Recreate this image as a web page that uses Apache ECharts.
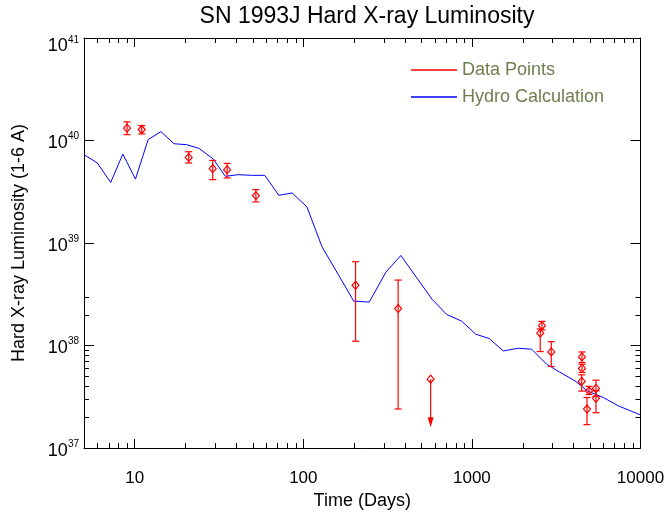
<!DOCTYPE html>
<html>
<head>
<meta charset="utf-8">
<title>SN 1993J Hard X-ray Luminosity</title>
<script src="https://cdn.jsdelivr.net/npm/echarts@6/dist/echarts.min.js"></script>
<style>
  html, body { margin: 0; padding: 0; background: #fff; }
  #chart { width: 668px; height: 515px; }
</style>
</head>
<body>
<div id="chart"></div>
<script>
// hydro calculation curve (days, erg/s)
var hydroDays = [5, 6, 7.2, 8.5, 10.1, 12, 14.3, 17.1, 20.3, 24, 29.2, 34.5, 41, 49.3, 59.1, 71.5, 85.8, 105, 129, 161,
                 199, 246, 309, 379, 470, 581, 708, 869, 1052, 1267, 1534, 1883, 2262, 2775, 3296, 4087, 4834, 6016, 7383, 10000];
var hydroLum = [7.27e39, 6.03e39, 3.9e39, 7.38e39, 4.2e39, 1.02e40, 1.22e40, 9.3e39, 9.1e39, 8.4e39,
                6.6e39, 4.47e39, 4.64e39, 4.57e39, 4.57e39, 2.92e39, 3.08e39, 2.25e39, 9.2e38, 4.94e38,
                2.71e38, 2.65e38, 5.2e38, 7.56e38, 4.59e38, 2.82e38, 2.01e38, 1.73e38, 1.29e38, 1.17e38,
                8.85e37, 9.4e37, 9.2e37, 6.57e37, 5.53e37, 4.52e37, 3.61e37, 3.11e37, 2.58e37, 2.1e37];

// observed points with error bars
var obsDays = [9.0, 11.0, 20.9, 29.0, 35.3, 52.3, 204, 365, 2543, 2603, 2955, 4480, 4496, 4496, 4815, 4949, 5443, 5443];
var obsLum  = [1.32e40, 1.28e40, 6.84e39, 5.31e39, 5.19e39, 2.90e39, 3.86e38, 2.29e38, 1.32e38, 1.56e38,
               8.65e37, 4.46e37, 7.74e37, 5.97e37, 2.40e37, 3.61e37, 3.81e37, 3.05e37];
var obsLow  = [1.14e40, 1.16e40, 6.03e39, 4.15e39, 4.31e39, 2.52e39, 1.10e38, 2.40e37, 8.73e37, 1.42e38,
               6.24e37, 3.59e37, 6.82e37, 5.45e37, 1.69e37, 3.33e37, 3.19e37, 2.21e37];
var obsHigh = [1.52e40, 1.40e40, 7.77e39, 6.40e39, 5.98e39, 3.32e39, 6.56e38, 4.35e38, 1.45e38, 1.72e38,
               1.09e38, 5.17e37, 8.65e37, 6.57e37, 3.11e37, 3.99e37, 4.59e37, 3.61e37];

// upper limit
var limitDays = [569];
var limitLum = [4.69e37];

// axis ranges and minor ticks
var xMin = 5, xMax = 10000;
var yMin = 1e37, yMax = 1e41;
var xMinorTicks = [6, 7, 8, 9, 20, 30, 40, 50, 60, 70, 80, 90, 200, 300, 400, 500, 600, 700, 800, 900,
                   2000, 3000, 4000, 5000, 6000, 7000, 8000, 9000];
var yMinorTicks = [2e37, 3e37, 4e37, 5e37, 6e37, 7e37, 8e37, 9e37, 2e38, 3e38];

var FONT = 'Liberation Sans';
var RED = '#ff0000';

var chart = echarts.init(document.getElementById('chart'), null, { renderer: 'canvas' });

function isDecade(v) {
  var e = Math.log10(v);
  return Math.abs(e - Math.round(e)) < 1e-6;
}

function diamond(x, y) {
  return {
    type: 'polygon',
    shape: { points: [[x, y - 4], [x + 3.5, y], [x, y + 4], [x - 3.5, y]] },
    style: { stroke: RED, lineWidth: 1.2, fill: 'none' }
  };
}

function renderErrorBar(params, api) {
  var p = api.coord([api.value(0), api.value(1)]);
  var lo = api.coord([api.value(0), api.value(2)]);
  var hi = api.coord([api.value(0), api.value(3)]);
  var st = { stroke: RED, lineWidth: 1.2 };
  return {
    type: 'group',
    children: [
      { type: 'line', shape: { x1: p[0], y1: hi[1], x2: p[0], y2: lo[1] }, style: st },
      { type: 'line', shape: { x1: p[0] - 3.5, y1: hi[1], x2: p[0] + 3.5, y2: hi[1] }, style: st },
      { type: 'line', shape: { x1: p[0] - 3.5, y1: lo[1], x2: p[0] + 3.5, y2: lo[1] }, style: st },
      diamond(p[0], p[1])
    ]
  };
}

function renderLimit(params, api) {
  var p = api.coord([api.value(0), api.value(1)]);
  var tip = p[1] + 48;
  return {
    type: 'group',
    children: [
      { type: 'line', shape: { x1: p[0], y1: p[1], x2: p[0], y2: tip - 8 }, style: { stroke: RED, lineWidth: 1.2 } },
      { type: 'polygon', shape: { points: [[p[0] - 3, tip - 10], [p[0] + 3, tip - 10], [p[0], tip]] }, style: { fill: RED } },
      diamond(p[0], p[1])
    ]
  };
}

function renderXMinor(params, api) {
  var b = api.coord([api.value(0), yMin]);
  var t = api.coord([api.value(0), yMax]);
  var x = Math.round(b[0]) + 0.5;
  var st = { stroke: '#000', lineWidth: 1 };
  return {
    type: 'group',
    children: [
      { type: 'line', shape: { x1: x, y1: b[1], x2: x, y2: b[1] - 5 }, style: st },
      { type: 'line', shape: { x1: x, y1: t[1], x2: x, y2: t[1] + 5 }, style: st }
    ]
  };
}

function renderYMinor(params, api) {
  var l = api.coord([xMin, api.value(1)]);
  var r = api.coord([xMax, api.value(1)]);
  var y = Math.round(l[1]) + 0.5;
  var st = { stroke: '#000', lineWidth: 1 };
  return {
    type: 'group',
    children: [
      { type: 'line', shape: { x1: l[0], y1: y, x2: l[0] + 5, y2: y }, style: st },
      { type: 'line', shape: { x1: r[0], y1: y, x2: r[0] - 5, y2: y }, style: st }
    ]
  };
}

var axisLine = { show: true, lineStyle: { color: '#000', width: 1 } };

var option = {
  animation: false,
  backgroundColor: '#fff',
  title: {
    text: 'SN 1993J Hard X-ray Luminosity',
    left: 362,
    top: 0,
    textAlign: 'center',
    textStyle: { fontFamily: FONT, fontSize: 23, fontWeight: 'normal', color: '#000' }
  },
  legend: {
    data: [{ name: 'Data Points', icon: 'rect' }, { name: 'Hydro Calculation', icon: 'rect' }],
    orient: 'vertical',
    left: 406,
    top: 56,
    itemWidth: 46,
    itemHeight: 1.5,
    itemGap: 9,
    textStyle: { fontFamily: FONT, fontSize: 18, color: '#6e7f4f' }
  },
  grid: { left: 84, right: 27.5, top: 38, bottom: 66 },
  xAxis: [
    {
      type: 'log', logBase: 10, min: xMin, max: xMax, position: 'bottom',
      axisLine: axisLine,
      axisTick: { inside: true, length: 9, lineStyle: { color: '#000' } },
      axisLabel: {
        margin: 22, fontFamily: FONT, fontSize: 17, color: '#000',
        formatter: function (v) { return isDecade(v) ? String(Math.round(v)) : ''; }
      },
      splitLine: { show: false },
      name: 'Time (Days)', nameLocation: 'middle', nameGap: 44,
      nameTextStyle: { fontFamily: FONT, fontSize: 18, color: '#000' }
    },
    {
      type: 'log', logBase: 10, min: xMin, max: xMax, position: 'top',
      axisLine: axisLine,
      axisTick: { inside: true, length: 9, lineStyle: { color: '#000' } },
      axisLabel: { show: false },
      splitLine: { show: false }
    }
  ],
  yAxis: [
    {
      type: 'log', logBase: 10, min: yMin, max: yMax, position: 'left',
      axisLine: axisLine,
      axisTick: { inside: true, length: 10, lineStyle: { color: '#000' } },
      axisLabel: {
        margin: 5, color: '#000',
        formatter: function (v) {
          var e = Math.round(Math.log10(v));
          if (v >= yMax) return '{bt|10}{st|' + e + '}';
          return '{b|10}{s|' + e + '}';
        },
        rich: {
          b: { fontFamily: FONT, fontSize: 18, color: '#000', padding: [6, 0, 0, 0] },
          s: { fontFamily: FONT, fontSize: 10, color: '#000', padding: [0, 0, 8, 0] },
          bt: { fontFamily: FONT, fontSize: 18, color: '#000', padding: [17, 0, 0, 0] },
          st: { fontFamily: FONT, fontSize: 10, color: '#000', padding: [4, 0, 0, 0] }
        }
      },
      splitLine: { show: false },
      name: 'Hard X-ray Luminosity (1-6 A)', nameLocation: 'middle', nameGap: 56,
      nameTextStyle: { fontFamily: FONT, fontSize: 18, color: '#000' }
    },
    {
      type: 'log', logBase: 10, min: yMin, max: yMax, position: 'right',
      axisLine: axisLine,
      axisTick: { inside: true, length: 10, lineStyle: { color: '#000' } },
      axisLabel: { show: false },
      splitLine: { show: false }
    }
  ],
  series: [
    {
      name: 'Hydro Calculation',
      type: 'line',
      data: hydroDays.map(function (d, i) { return [d, hydroLum[i]]; }),
      showSymbol: false,
      symbol: 'none',
      lineStyle: { color: '#0000ff', width: 1 },
      itemStyle: { color: '#0000ff' },
      z: 3
    },
    {
      name: 'Data Points',
      type: 'custom',
      data: obsDays.map(function (d, i) { return [d, obsLum[i], obsLow[i], obsHigh[i]]; }),
      encode: { x: 0, y: 1 },
      renderItem: renderErrorBar,
      itemStyle: { color: RED },
      z: 4
    },
    {
      name: 'Data Points',
      type: 'custom',
      data: limitDays.map(function (d, i) { return [d, limitLum[i]]; }),
      encode: { x: 0, y: 1 },
      renderItem: renderLimit,
      itemStyle: { color: RED },
      z: 4
    },
    {
      name: 'xminor',
      type: 'custom',
      data: xMinorTicks.map(function (v) { return [v, yMin]; }),
      encode: { x: 0, y: 1 },
      renderItem: renderXMinor,
      clip: false,
      silent: true
    },
    {
      name: 'yminor',
      type: 'custom',
      data: yMinorTicks.map(function (v) { return [xMin, v]; }),
      encode: { x: 0, y: 1 },
      renderItem: renderYMinor,
      clip: false,
      silent: true
    }
  ]
};

chart.setOption(option);
</script>
</body>
</html>
